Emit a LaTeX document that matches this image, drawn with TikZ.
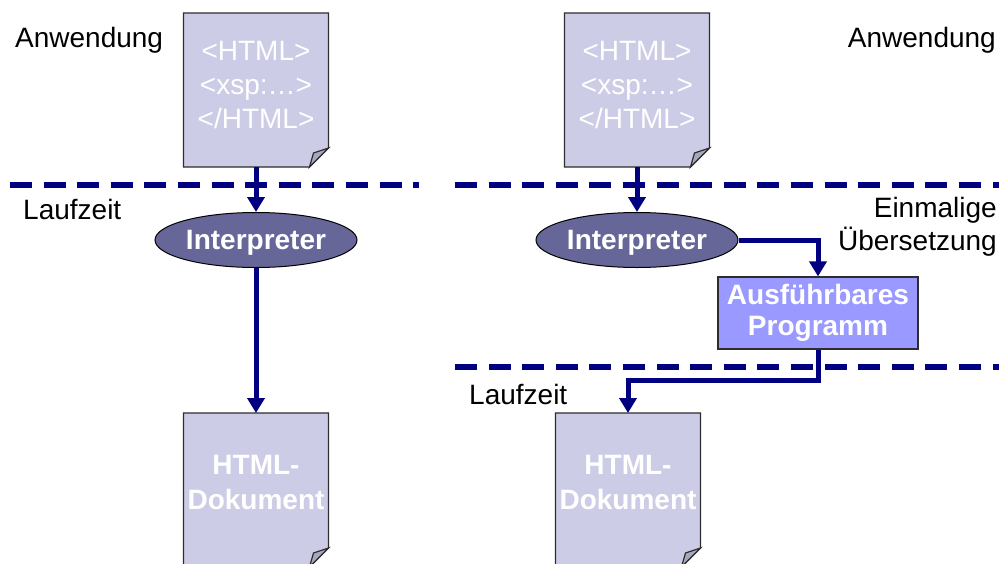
\documentclass[tikz,border=0pt]{standalone}
\usepackage{fontspec}
\setmainfont{Liberation Sans}
\usetikzlibrary{shapes.geometric,arrows.meta}
\definecolor{navy}{RGB}{0,0,128}
\definecolor{docfill}{RGB}{204,204,230}
\definecolor{interp}{RGB}{102,102,153}
\definecolor{progfill}{RGB}{153,153,255}
\definecolor{foldfill}{RGB}{168,168,188}
\definecolor{outline}{RGB}{45,45,45}
\tikzset{
  docbox/.style={rectangle,draw=none,inner sep=0pt,outer sep=0pt,minimum width=145pt,minimum height=154pt},
  docline/.style={draw=outline,line width=1.2pt,line join=miter},
  doctext/.style={text=white,align=center,inner sep=0pt,font=\fontsize{28}{34}\selectfont},
  doctextb/.style={doctext,font=\fontsize{28}{35}\selectfont\bfseries},
  interpnode/.style={ellipse,fill=interp,draw=black,line width=1pt,minimum width=202pt,minimum height=55pt,inner sep=0pt,text depth=0pt,text=white,font=\fontsize{28}{34}\selectfont\bfseries},
  prognode/.style={rectangle,fill=progfill,draw=outline,line width=1.2pt,minimum width=200pt,minimum height=72pt,inner sep=0pt,text=white,align=center,font=\fontsize{28}{31}\selectfont\bfseries},
  lbl/.style={inner sep=0pt,text=black,font=\fontsize{28}{33}\selectfont},
  conn/.style={draw=navy,line width=5pt,-{Triangle[width=17pt,length=15pt]},line join=miter},
  dashline/.style={draw=navy,line width=6pt,dash pattern=on 22pt off 11.6pt}
}
\newcommand\docshape[1]{%
  \fill[docfill] (#1.north west) -- (#1.north east) -- ([yshift=19pt]#1.south east) -- ([xshift=-19pt]#1.south east) -- (#1.south west) -- cycle;
  \draw[docline] (#1.north west) -- (#1.north east) -- ([yshift=19pt]#1.south east) -- ([xshift=-19pt]#1.south east) -- (#1.south west) -- cycle;
  \filldraw[docline,fill=foldfill] ([xshift=-19pt]#1.south east) -- ([xshift=-15pt,yshift=14pt]#1.south east) .. controls ([xshift=-8pt,yshift=17pt]#1.south east) .. ([yshift=19pt]#1.south east) -- cycle;
}
\begin{document}
\begin{tikzpicture}[x=1pt,y=-1pt]
\useasboundingbox (0,0) rectangle (999,563);
\clip (0,0) rectangle (999,563);
% documents
\node[docbox] (doc1) at (256,90) {};
\docshape{doc1}
\node[docbox] (doc2) at (637,90) {};
\docshape{doc2}
\node[docbox] (doc3) at (256,490) {};
\docshape{doc3}
\node[docbox] (doc4) at (628,490) {};
\docshape{doc4}
\node[doctext] (doc1t) at (256,85) {<HTML>\\<xsp:…>\\</HTML>};
\node[doctext] (doc2t) at (637,85) {<HTML>\\<xsp:…>\\</HTML>};
\node[doctextb] (doc3t) at (256,482) {HTML-\\Dokument};
\node[doctextb] (doc4t) at (628,482) {HTML-\\Dokument};
% dashed separators
\coordinate (d1a) at (10,185);
\coordinate (d1b) at (419,185);
\coordinate (d2a) at (455,185);
\coordinate (d2b) at (999,185);
\coordinate (d3a) at (455,367);
\coordinate (d3b) at (999,367);
\draw[dashline] (d1a) -- (d1b);
\draw[dashline] (d2a) -- (d2b);
\draw[dashline] (d3a) -- (d3b);
% process nodes
\node[interpnode] (int1) at (256,240) {Interpreter};
\node[interpnode] (int2) at (637,240) {Interpreter};
\node[prognode] (prog) at (818,313) {Ausführbares\\Programm};
% connectors
\draw[conn] (doc1.south) -- (int1.north);
\draw[conn] (int1.south) -- (doc3.north);
\draw[conn] (doc2.south) -- (int2.north);
\draw[conn] (int2.east) -| (prog.north);
\draw[conn] (prog.south) -- ++(0,31) -| (doc4.north);
% labels
\node[lbl,anchor=base west] (anw1) at (15,47) {Anwendung};
\node[lbl,anchor=base east] (anw2) at (996,47) {Anwendung};
\node[lbl,anchor=base west] (lz1) at (23,219) {Laufzeit};
\node[lbl,anchor=base west] (lz2) at (469,404) {Laufzeit};
\node[lbl,anchor=east,align=right] (einm) at (997,227) {Einmalige\\Übersetzung};
\end{tikzpicture}
\end{document}
